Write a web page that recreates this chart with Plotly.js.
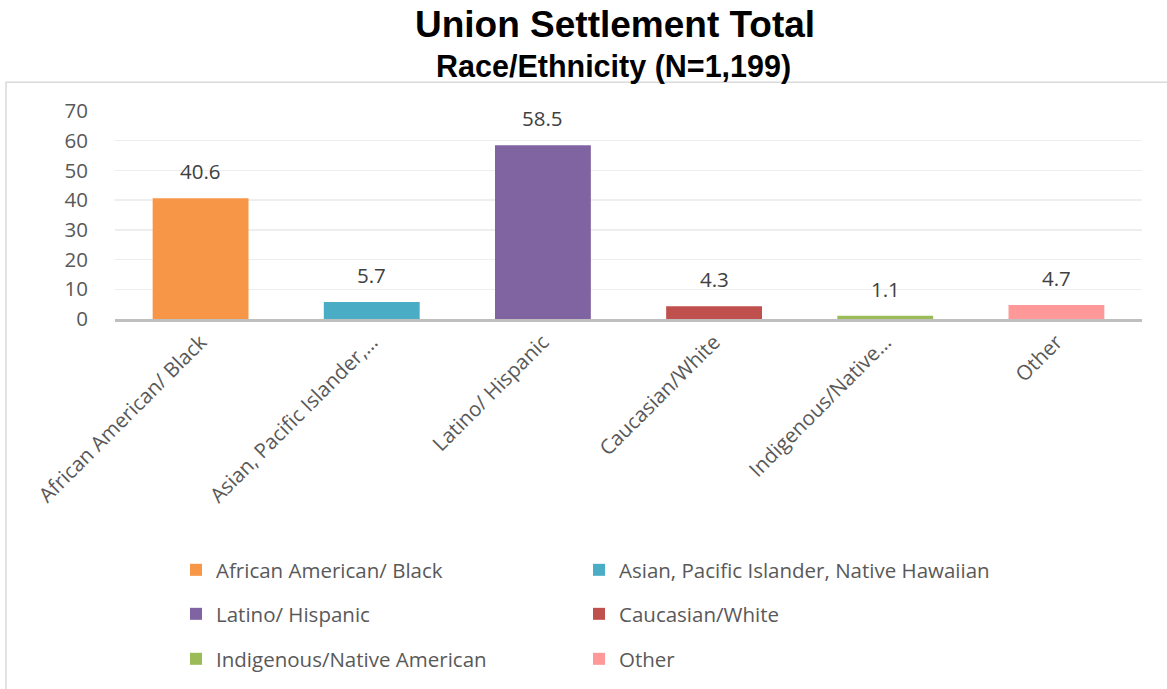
<!DOCTYPE html>
<html>
<head>
<meta charset="utf-8">
<script src="https://cdn.plot.ly/plotly-3.0.1.min.js"></script>
<style>
html,body{margin:0;padding:0;background:#fff;}
#chart{width:1167px;height:689px;}
</style>
</head>
<body>
<div id="chart"></div>
<script>
const categories = ["African American/ Black","Asian, Pacific Islander, Native Hawaiian","Latino/ Hispanic","Caucasian/White","Indigenous/Native American","Other"];
const tickLabels = ["African American/ Black","Asian, Pacific Islander,…","Latino/ Hispanic","Caucasian/White","Indigenous/Native…","Other"];
const values = [40.6, 5.7, 58.5, 4.3, 1.1, 4.7];
const valueLabels = ["40.6","5.7","58.5","4.3","1.1","4.7"];
const colors = ["#F79646","#4BACC6","#8064A2","#C0504D","#9BBB59","#FF9999"];
const legendIds = ["legend","legend2","legend3","legend4","legend5","legend6"];

const font = "'Open Sans', 'DejaVu Sans', sans-serif";

const traces = categories.map((c,i)=>({
  type:'bar',
  name:c,
  x:[c],
  y:[values[i]],
  width:0.56,
  marker:{color:colors[i]},
  legend:legendIds[i],
  hoverinfo:'skip'
}));

const annotations = categories.map((c,i)=>({
  x:c, y:values[i], xref:'x', yref:'y',
  text:valueLabels[i], showarrow:false,
  yanchor:'bottom', yshift:11,
  font:{family:font,size:20.5,color:'#404040'}
}));

annotations.push({
  xref:'paper', yref:'paper', x:(615-115)/1027, y:(320-24)/209, xanchor:'center', yanchor:'middle',
  text:'<b>Union Settlement Total</b>', showarrow:false,
  font:{family:"'Liberation Sans', Arial, sans-serif", size:37, color:'#000'}
});
annotations.push({
  xref:'paper', yref:'paper', x:(613-115)/1027, y:(320-66)/209, xanchor:'center', yanchor:'middle',
  text:'<b>Race/Ethnicity (N=1,199)</b>', showarrow:false,
  font:{family:"'Liberation Sans', Arial, sans-serif", size:30.5, color:'#000'}
});

function legendAt(px, py){
  return {
    orientation:'h', xanchor:'left', yanchor:'middle',
    x:(px-14-115)/1027, y:(320-py)/209,
    font:{family:font,size:20.5,color:'#595959'},
    bgcolor:'rgba(0,0,0,0)'
  };
}

const layout = {
  width:1167, height:689,
  margin:{l:115, r:25, t:111, b:369},
  paper_bgcolor:'#fff', plot_bgcolor:'#fff',
  barmode:'overlay',
  showlegend:true,
  xaxis:{
    type:'category',
    categoryarray:categories,
    tickvals:categories,
    ticktext:tickLabels,
    tickangle:-45,
    tickfont:{family:font,size:20.5,color:'#595959'},
    showgrid:false,
    showline:true, linecolor:'#BFBFBF', linewidth:3,
    ticks:'', fixedrange:true
  },
  yaxis:{
    range:[0,70],
    dtick:10,
    tickfont:{family:font,size:20.5,color:'#595959'},
    showgrid:true, gridcolor:'#EEEEEE', gridwidth:1.5,
    zeroline:false, showline:false,
    ticks:'outside', ticklen:22, tickcolor:'rgba(0,0,0,0)',
    fixedrange:true
  },
  legend:legendAt(190,570),
  legend2:legendAt(593,570),
  legend3:legendAt(190,614),
  legend4:legendAt(593,614),
  legend5:legendAt(190,659),
  legend6:legendAt(593,659),
  annotations:annotations,
  shapes:[{
    type:'rect', xref:'paper', yref:'paper',
    x0:(6-115)/1027, x1:(1172-115)/1027,
    y0:(320-700)/209, y1:(320-82)/209,
    line:{color:'#D9D9D9', width:1.5}, fillcolor:'rgba(0,0,0,0)', layer:'below'
  }]
};

Plotly.newPlot('chart', traces, layout, {displayModeBar:false, staticPlot:true});
</script>
</body>
</html>
